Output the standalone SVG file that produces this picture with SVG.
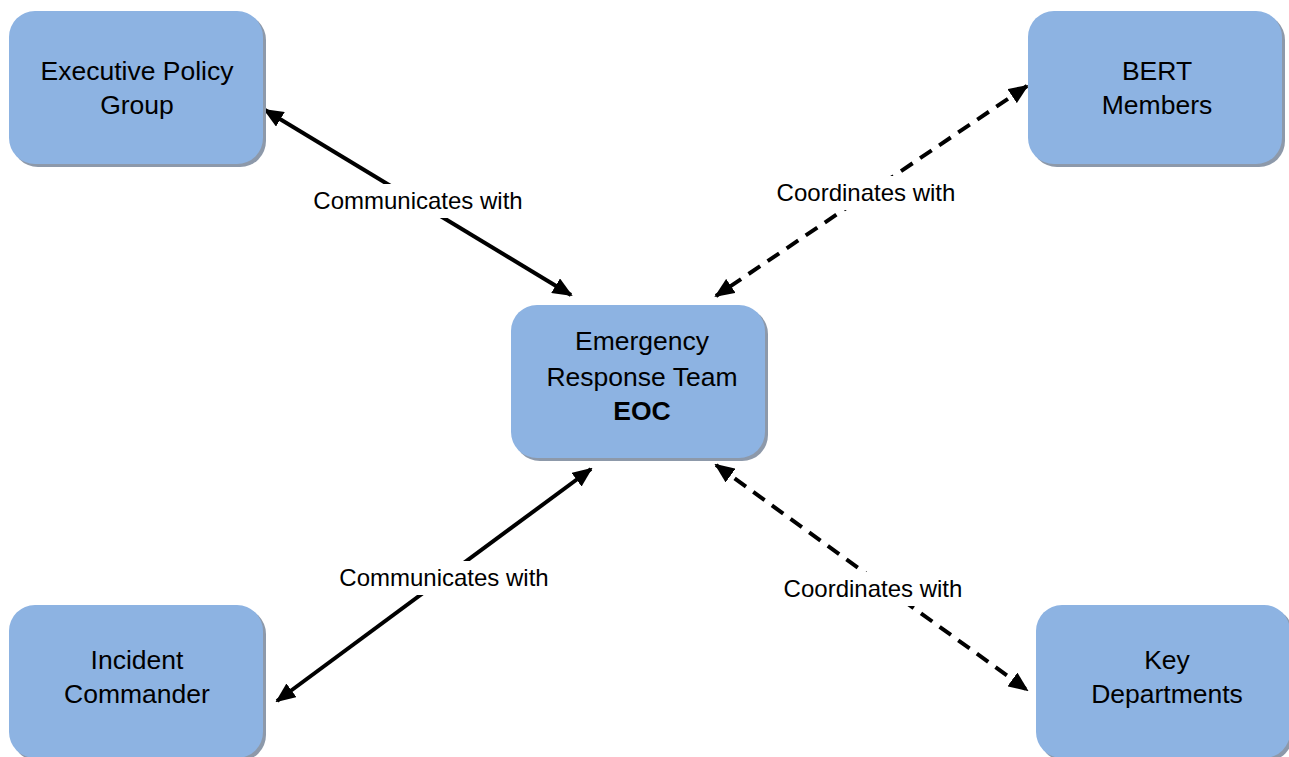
<svg xmlns="http://www.w3.org/2000/svg" width="1289" height="757" viewBox="0 0 1289 757">
  <style>
    .box { fill: #8db3e2; }
    .shadow { fill: #8d99aa; }
    .txt { font-family: "Liberation Sans", Arial, sans-serif; font-size: 26.5px; fill: #000; text-anchor: middle; }
    .bold { font-weight: bold; }
    .lbl { font-family: "Liberation Sans", Arial, sans-serif; font-size: 24px; fill: #000; text-anchor: middle; }
    .lblbg { fill: #fff; }
    .conn { stroke: #000; stroke-width: 4; fill: none; marker-start: url(#arrow); marker-end: url(#arrow); }
    .dash { stroke-dasharray: 14 9; }
  </style>
  <defs>
    <marker id="arrow" markerUnits="userSpaceOnUse" markerWidth="20" markerHeight="17" viewBox="0 0 20 17" refX="18" refY="8.5" orient="auto-start-reverse">
      <path d="M0,0 L20,8.5 L0,17 Z" fill="#000"/>
    </marker>
  </defs>

  <rect width="1289" height="757" fill="#fff"/>

  <!-- connectors -->
  <g id="connectors">
    <line class="conn" x1="265" y1="110" x2="571" y2="295"/>
    <line class="conn dash" x1="1027" y1="86" x2="716" y2="296"/>
    <line class="conn" x1="591" y1="469" x2="277" y2="701"/>
    <line class="conn dash" x1="716" y1="465" x2="1027" y2="690"/>

    <rect class="lblbg" x="310" y="184" width="216" height="34"/>
    <text class="lbl" x="418" y="209">Communicates with</text>
    <rect class="lblbg" x="773" y="176" width="186" height="34"/>
    <text class="lbl" x="866" y="201">Coordinates with</text>
    <rect class="lblbg" x="336" y="561" width="216" height="34"/>
    <text class="lbl" x="444" y="586">Communicates with</text>
    <rect class="lblbg" x="780" y="572" width="186" height="34"/>
    <text class="lbl" x="873" y="597">Coordinates with</text>
  </g>

  <!-- Executive Policy Group -->
  <g id="node-epg">
    <rect class="shadow" x="12" y="14" width="254" height="153" rx="26"/>
    <rect class="box" x="9" y="11" width="254" height="153" rx="26"/>
    <text class="txt" x="137" y="80">Executive Policy</text>
    <text class="txt" x="137" y="114">Group</text>
  </g>

  <!-- BERT Members -->
  <g id="node-bert">
    <rect class="shadow" x="1031" y="14" width="254" height="153" rx="26"/>
    <rect class="box" x="1028" y="11" width="254" height="153" rx="26"/>
    <text class="txt" x="1157" y="80">BERT</text>
    <text class="txt" x="1157" y="114">Members</text>
  </g>

  <!-- Emergency Response Team EOC -->
  <g id="node-eoc">
    <rect class="shadow" x="514" y="308" width="254" height="153" rx="26"/>
    <rect class="box" x="511" y="305" width="254" height="153" rx="26"/>
    <text class="txt" x="642" y="350">Emergency</text>
    <text class="txt" x="642" y="386">Response Team</text>
    <text class="txt bold" x="642" y="420">EOC</text>
  </g>

  <!-- Incident Commander -->
  <g id="node-ic">
    <rect class="shadow" x="12" y="608" width="254" height="153" rx="26"/>
    <rect class="box" x="9" y="605" width="254" height="153" rx="26"/>
    <text class="txt" x="137" y="669">Incident</text>
    <text class="txt" x="137" y="703">Commander</text>
  </g>

  <!-- Key Departments -->
  <g id="node-kd">
    <rect class="shadow" x="1039" y="608" width="254" height="153" rx="26"/>
    <rect class="box" x="1036" y="605" width="254" height="153" rx="26"/>
    <text class="txt" x="1167" y="669">Key</text>
    <text class="txt" x="1167" y="703">Departments</text>
  </g>
</svg>
